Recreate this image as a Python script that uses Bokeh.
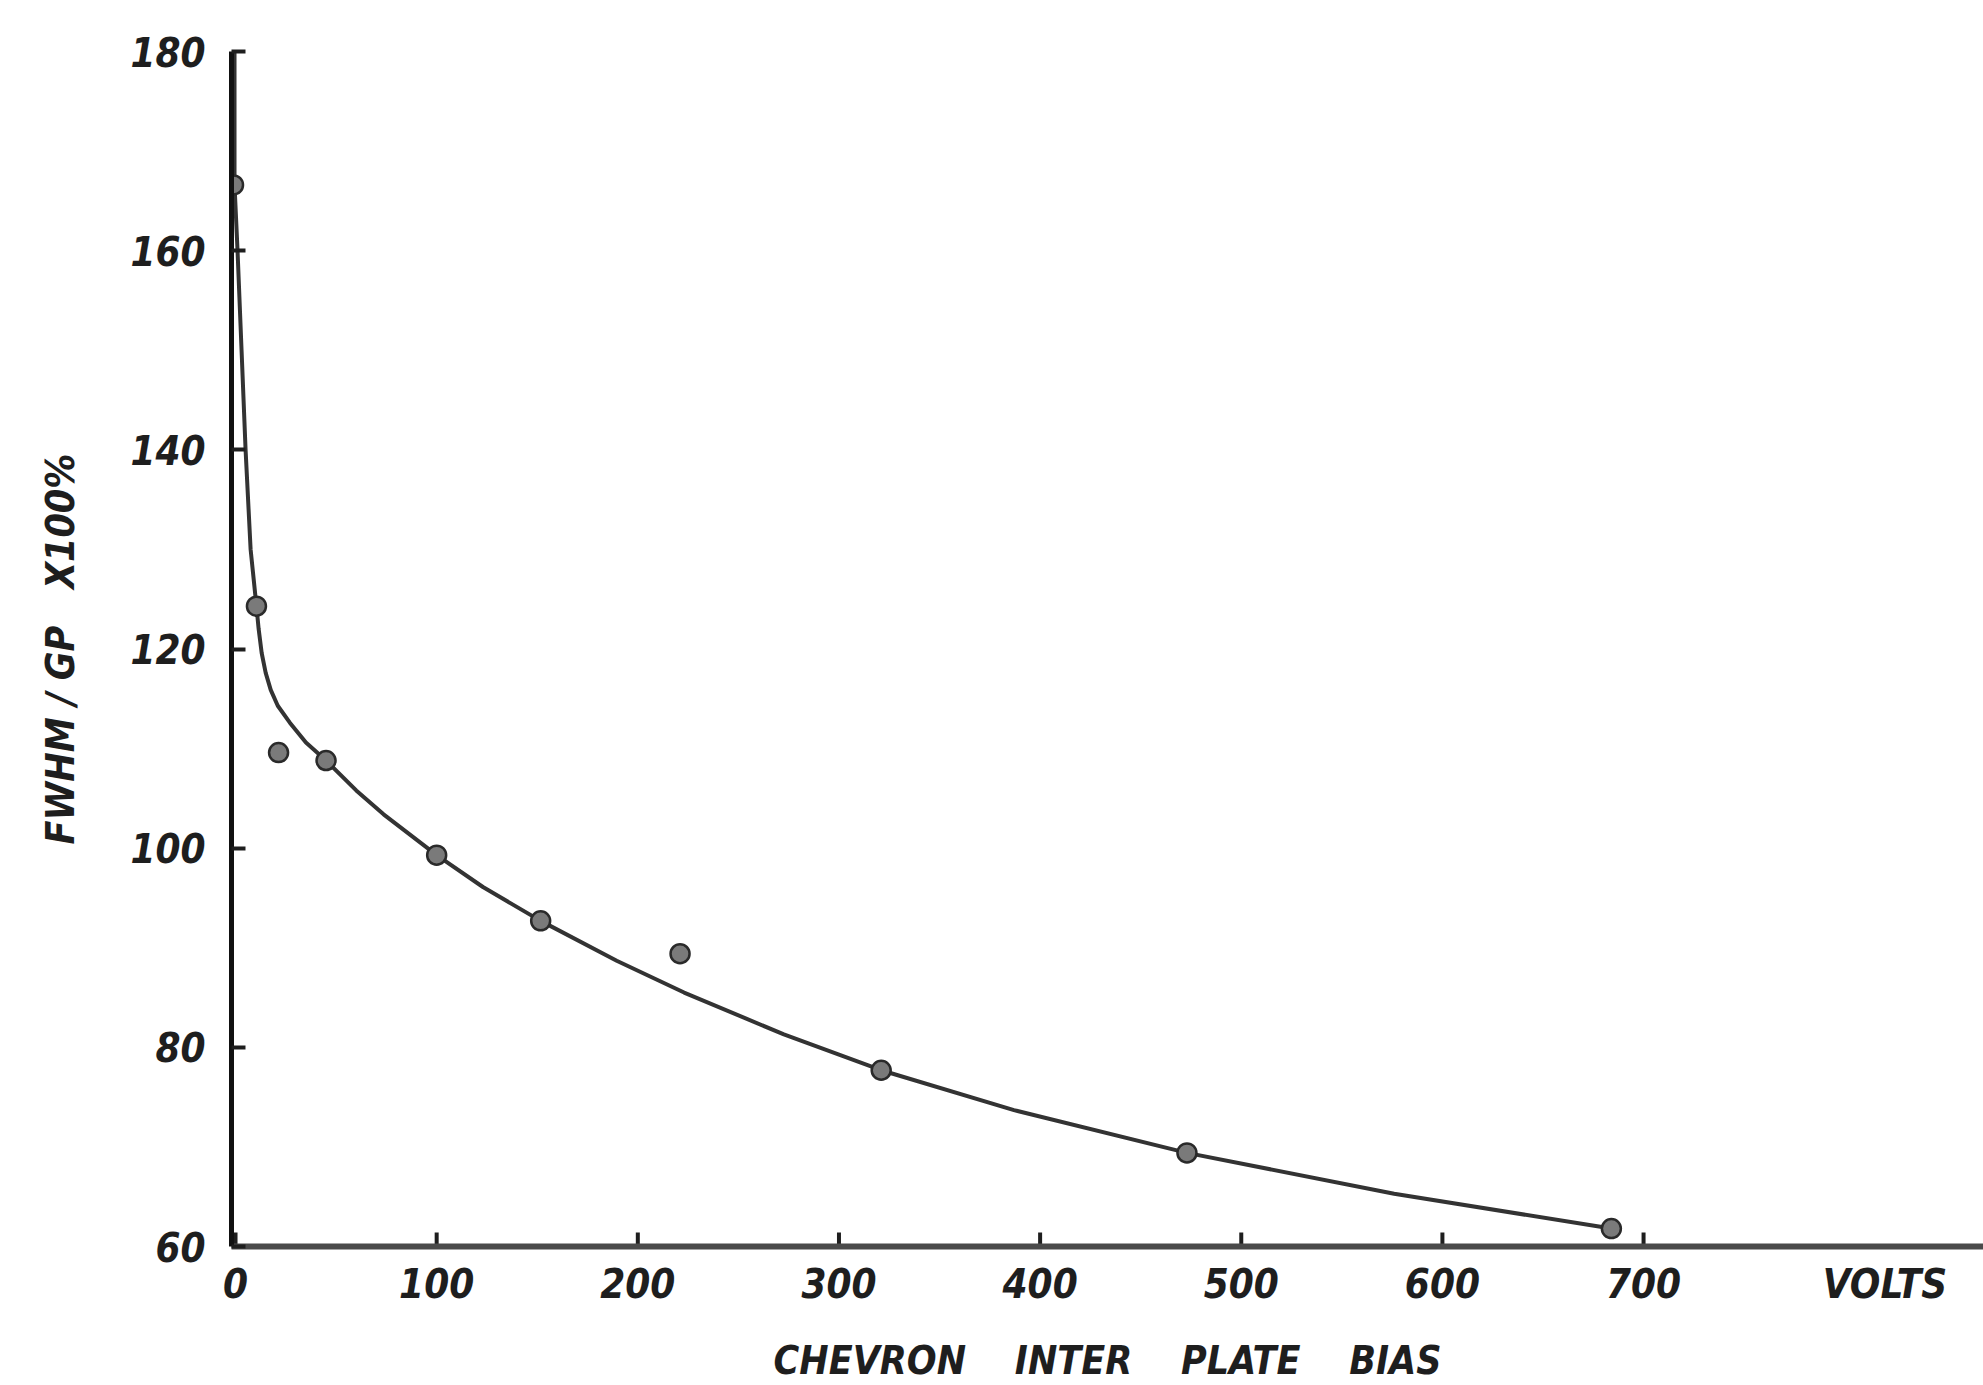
from bokeh.plotting import figure
from bokeh.models import Range1d, FixedTicker
from bokeh.embed import file_html
from bokeh.resources import INLINE

# ---- data ----
bias_points = [-1, 10.4, 21.4, 45, 100, 151.7, 221, 321, 473, 684]
fwhm_points = [166.6, 124.3, 109.6, 108.8, 99.3, 92.7, 89.4, 77.7, 69.4, 61.8]

curve_bias = [-0.5, -0.5, 1, 3, 5, 7.5, 10.4, 11.5, 13, 15, 17.5, 21, 27, 35, 45, 60, 73.6,
              100, 123, 151.7, 189.5, 223, 272.6, 321, 387, 473, 576, 684]
curve_fwhm = [180, 166.6, 160, 150, 140, 130, 124.3, 122, 119.6, 117.6, 115.9, 114.3, 112.6, 110.6, 108.8, 105.8, 103.4,
              99.3, 96.1, 92.7, 88.7, 85.5, 81.3, 77.7, 73.7, 69.4, 65.3, 61.8]

x_ticks = [0, 100, 200, 300, 400, 500, 600, 700]
y_ticks = [60, 80, 100, 120, 140, 160, 180]
unit_pos = 820
unit_label = "VOLTS"

NB = "\u00a0"
x_label = f"CHEVRON{NB*4}INTER{NB*4}PLATE{NB*4}BIAS"
y_label = f"FWHM{NB}/{NB}GP{NB*3}X100%"

FONT = "DejaVu Sans Condensed"
INK = "#1e1e1e"

p = figure(width=1983, height=1385, output_backend="svg", toolbar_location=None,
           x_range=Range1d(-2, 869), y_range=Range1d(60, 180),
           min_border_left=231, min_border_right=0, min_border_top=51, min_border_bottom=139)
p.outline_line_color = None
p.xgrid.visible = False
p.ygrid.visible = False
p.background_fill_color = "white"
p.border_fill_color = "white"

for ax in (p.xaxis[0], p.yaxis[0]):
    ax.major_tick_out = 0
    ax.minor_tick_in = 0
    ax.minor_tick_out = 0
    ax.major_label_text_font = FONT
    ax.major_label_text_font_style = "bold italic"
    ax.major_label_text_font_size = "40px"
    ax.major_label_text_color = INK
    ax.axis_label_text_font = FONT
    ax.axis_label_text_font_style = "bold italic"
    ax.axis_label_text_font_size = "39px"
    ax.axis_label_text_color = INK

# y axis: inward ticks
yax = p.yaxis[0]
yax.ticker = FixedTicker(ticks=y_ticks)
yax.major_tick_in = 14
yax.major_tick_line_color = INK
yax.major_tick_line_width = 4
yax.axis_line_color = "#111111"
yax.axis_line_width = 5
yax.major_label_standoff = 26
yax.axis_label = y_label
yax.axis_label_standoff = 44

# x axis: tick labels incl. the unit label, tick marks drawn separately
xax = p.xaxis[0]
xax.ticker = FixedTicker(ticks=x_ticks + [unit_pos])
xax.major_label_overrides = {unit_pos: unit_label}
xax.major_tick_in = 0
xax.major_tick_line_color = None
xax.axis_line_color = "#4a4a4a"
xax.axis_line_width = 6
xax.major_label_standoff = 14
xax.axis_label = x_label
xax.axis_label_standoff = 28

p.segment(x0=x_ticks, y0=[60] * len(x_ticks), x1=x_ticks, y1=[61.4] * len(x_ticks),
          line_color=INK, line_width=4)

# curve and points
p.line(curve_bias, curve_fwhm, line_color="#333333", line_width=4, line_join="round")
p.scatter(bias_points, fwhm_points, size=19, fill_color="#7a7a7a",
          line_color="#2a2a2a", line_width=2.5)

open("out.html", "w").write(file_html(p, INLINE))
